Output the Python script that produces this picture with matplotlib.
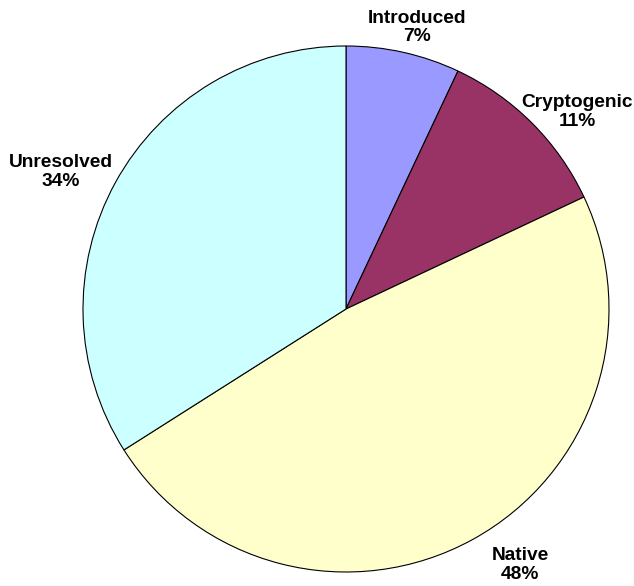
import matplotlib
matplotlib.use("Agg")
import matplotlib.pyplot as plt

# data
categories = ["Introduced", "Cryptogenic", "Native", "Unresolved"]
shares = [7, 11, 48, 34]
colors = ["#9999FF", "#993366", "#FFFFCC", "#CCFFFF"]

# label placement (x, y in pie-radius units)
label_xy = [(0.27, 1.07), (0.878, 0.749), (0.662, -0.973), (-1.084, 0.521)]

fig = plt.figure(figsize=(6.34, 5.86), dpi=100)
ax = fig.add_axes([0, 0, 1, 1])

ax.pie(shares, colors=colors, startangle=90, counterclock=False,
       radius=1.0, wedgeprops=dict(edgecolor="black", linewidth=0.8))

for name, val, (x, y) in zip(categories, shares, label_xy):
    ax.text(x, y, "%s\n%d%%" % (name, val), ha="center", va="center",
            fontsize=13.8, fontweight="bold", family="Liberation Sans",
            linespacing=1.1)

# center at (346, 309) px, radius 263 px
ax.set_xlim(-346 / 263, (634 - 346) / 263)
ax.set_ylim(-(586 - 309) / 263, 309 / 263)
ax.set_aspect("equal")
ax.axis("off")

fig.savefig("out.png", dpi=100, facecolor="white")
